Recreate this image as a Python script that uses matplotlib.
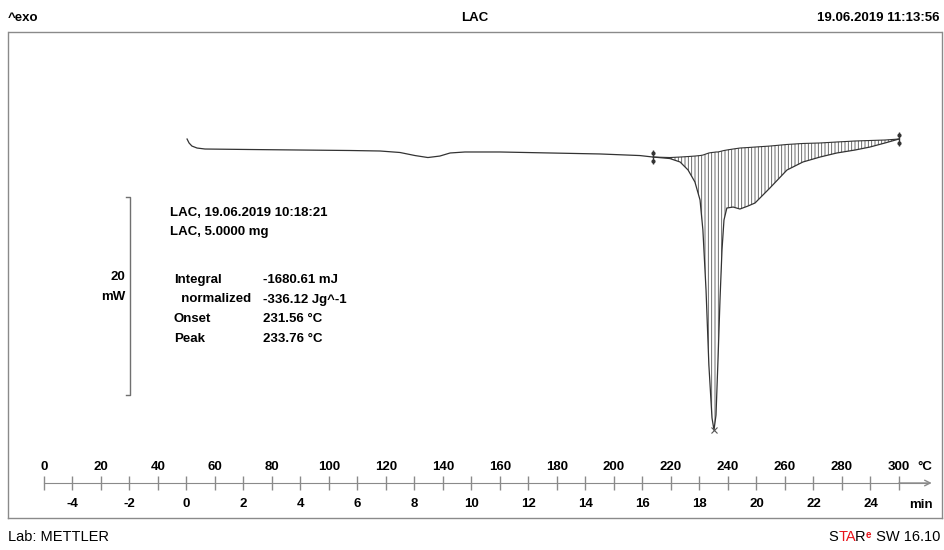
import matplotlib
matplotlib.use("Agg")
import matplotlib.pyplot as plt
from matplotlib.ticker import FixedLocator, NullFormatter
from matplotlib.offsetbox import TextArea, HPacker, AnnotationBbox
import numpy as np

plt.rcParams['font.family'] = ['Liberation Sans', 'DejaVu Sans']
plt.rcParams['axes.unicode_minus'] = False

# DSC curve: temperature (C) and heat flow (mW)
temp_pre = [50.2, 50.9, 51.9, 53.7, 56.5, 72.3, 89.8, 107.4, 117.9, 124.9, 130.2,
            134.7, 138.9, 142.5, 147.7, 160.0, 177.5, 195.1, 209.1]
hf_pre = [1.11, 0.71, 0.40, 0.20, 0.10, 0.05, 0.00, -0.05, -0.10, -0.25, -0.56,
          -0.76, -0.61, -0.30, -0.20, -0.20, -0.30, -0.40, -0.56]

# integrated melting peak region
temp_peak = [213.7, 219.6, 223.2, 226.0, 228.4, 230.2, 231.2, 232.3, 233.3, 234.4,
             235.1, 235.8, 236.5, 237.2, 237.9, 238.6, 239.6, 241.8, 244.2, 247.0,
             249.5, 254.7, 260.7, 266.3, 272.3, 278.2, 284.6, 289.8, 295.1, 300.0]
hf_peak = [-0.71, -0.86, -1.21, -2.02, -3.23, -5.05, -8.08, -14.14, -21.72, -27.07,
           -28.28, -26.77, -21.21, -15.15, -10.10, -7.07, -5.86, -5.76, -5.96, -5.66,
           -5.35, -3.84, -2.02, -1.21, -0.71, -0.30, 0.00, 0.30, 0.71, 1.11]
baseline = [-0.71, -0.76, -0.71, -0.66, -0.61, -0.56, -0.51, -0.40, -0.30, -0.25,
            -0.23, -0.20, -0.20, -0.15, -0.10, -0.05, 0.00, 0.10, 0.20, 0.25,
            0.30, 0.40, 0.56, 0.66, 0.71, 0.81, 0.91, 0.96, 1.01, 1.11]

temp_labels = list(range(0, 301, 20))
temp_minor = list(range(10, 300, 20))
time_labels = list(range(-4, 25, 2))
start_temp = 50.0   # temperature at t = 0 min
rate = 10.0         # K/min
scale_mw = 20

info_head = ["LAC, 19.06.2019 10:18:21", "LAC, 5.0000 mg"]
info_keys = ["Integral", "  normalized", "Onset", "Peak"]
info_vals = ["-1680.61 mJ", "-336.12 Jg^-1", "231.56 °C", "233.76 °C"]

W, H = 945, 550
FS = 9.5
fig = plt.figure(figsize=(W / 100, H / 100), dpi=100)

def fx(px):
    return px / W

def fy(py):
    return 1 - py / H

# frame 8..942 x 32..518 px
ax = fig.add_axes([fx(8), fy(518), fx(942) - fx(8), fy(32) - fy(518)])
ax.set_xlim(-12.63, 315.1)
ax.set_ylim(-37.17, 11.92)
ax.set_yticks([])
for s in ['left', 'right', 'bottom']:
    ax.spines[s].set_color('#8a8a8a')
    ax.spines[s].set_linewidth(1.0)
ax.add_patch(plt.Rectangle((0, 1), 1, 0, transform=ax.transAxes, fill=False,
                           edgecolor='#8a8a8a', lw=1.0, clip_on=False))

# ruler along the bottom: temperature above, time below
ruler_pos = 35 / 486
ax.xaxis.set_ticks_position('top')
ax.spines['top'].set_position(('axes', ruler_pos))
ax.spines['top'].set_bounds(0, 310)
ax.spines['top'].set_color('#8a8a8a')
ax.xaxis.set_major_locator(FixedLocator(temp_labels))
ax.xaxis.set_minor_locator(FixedLocator(temp_minor))
ax.xaxis.set_minor_formatter(NullFormatter())
ax.tick_params(axis='x', which='both', direction='inout', length=10, width=1,
               color='#8a8a8a', pad=2, labelsize=FS, labelcolor='black')
for lab in ax.get_xticklabels():
    lab.set_fontweight('bold')
ax.annotate('', xy=(311.5, ruler_pos), xytext=(300, ruler_pos),
            xycoords=ax.get_xaxis_transform(),
            arrowprops=dict(arrowstyle='->', color='#8a8a8a', lw=1,
                            mutation_scale=10, shrinkA=0, shrinkB=0))

sec = ax.secondary_xaxis(ruler_pos, functions=(lambda t: (t - start_temp) / rate,
                                               lambda m: m * rate + start_temp))
sec.set_xticks(time_labels)
sec.spines['bottom'].set_visible(False)
sec.spines['top'].set_visible(False)
sec.tick_params(axis='x', length=0, pad=11, labelsize=FS)
for lab in sec.get_xticklabels():
    lab.set_fontweight('bold')

fig.text(fx(925), fy(467), "°C", ha='center', va='center', fontsize=FS, fontweight='bold')
fig.text(fx(933), fy(505), "min", ha='right', va='center', fontsize=FS, fontweight='bold')

# curve
t_all = np.array(temp_pre + temp_peak)
h_all = np.array(hf_pre + hf_peak)
ax.plot(t_all, h_all, color='#333333', lw=0.9)
ax.plot(temp_peak, baseline, color='#333333', lw=0.8)
plt.rcParams['hatch.linewidth'] = 0.6
ax.fill_between(temp_peak, hf_peak, baseline, facecolor='none',
                edgecolor='#555555', hatch='|||||', lw=0)

# integration limits and peak marker
for i in (0, -1):
    ax.plot(temp_peak[i], baseline[i], marker='|', ms=10, mew=1.0, color='#333333')
    ax.plot([temp_peak[i]] * 2, [baseline[i] + 0.45, baseline[i] - 0.45], ls='none',
            marker='o', ms=2, color='#333333')
ip = int(np.argmin(hf_peak))
ax.plot(temp_peak[ip], hf_peak[ip], marker='x', ms=5, mew=0.8, color='#555555')

# 20 mW scale bar
bar_x = 30.2
bar_top = -4.75
ax.plot([bar_x - 1.4, bar_x, bar_x, bar_x - 1.4],
        [bar_top, bar_top, bar_top - scale_mw, bar_top - scale_mw],
        color='#707070', lw=1.0)
fig.text(fx(125), fy(277), str(scale_mw), ha='right', va='center', fontsize=FS, fontweight='bold')
fig.text(fx(125), fy(297), "mW", ha='right', va='center', fontsize=FS, fontweight='bold')

# info text
for i, s in enumerate(info_head):
    fig.text(fx(170), fy(213 + 19.5 * i), s, ha='left', va='center', fontsize=FS, fontweight='bold')
for i, (k, v) in enumerate(zip(info_keys, info_vals)):
    fig.text(fx(174), fy(280 + 19.5 * i), k, ha='left', va='center', fontsize=FS, fontweight='bold')
    fig.text(fx(263), fy(280 + 19.5 * i), v, ha='left', va='center', fontsize=FS, fontweight='bold')

# header
fig.text(fx(8), fy(18), "^exo", ha='left', va='center', fontsize=FS, fontweight='bold')
fig.text(fx(475), fy(18), "LAC", ha='center', va='center', fontsize=FS, fontweight='bold')
fig.text(fx(940), fy(18), "19.06.2019 11:13:56", ha='right', va='center', fontsize=FS, fontweight='bold')

# footer
FF = 10.5
red = '#e8141b'
fig.text(fx(8), fy(537), "Lab: METTLER", ha='left', va='center', fontsize=FF)
ta_r = HPacker(children=[TextArea("TA", textprops=dict(fontsize=FF, color=red)),
                         TextArea("R", textprops=dict(fontsize=FF, color='black'))],
               align='top', pad=0, sep=-1.6)
parts = [TextArea("S", textprops=dict(fontsize=FF, color='black')),
         ta_r,
         TextArea("e", textprops=dict(fontsize=7, color=red, fontweight='bold')),
         TextArea(" SW 16.10", textprops=dict(fontsize=FF, color='black'))]
star = HPacker(children=parts, align='top', pad=0, sep=0.4)
ab = AnnotationBbox(star, (940, H - 537), xycoords='figure pixels',
                    box_alignment=(1, 0.5), frameon=False, pad=0)
fig.add_artist(ab)

fig.savefig("out.png", dpi=100)
